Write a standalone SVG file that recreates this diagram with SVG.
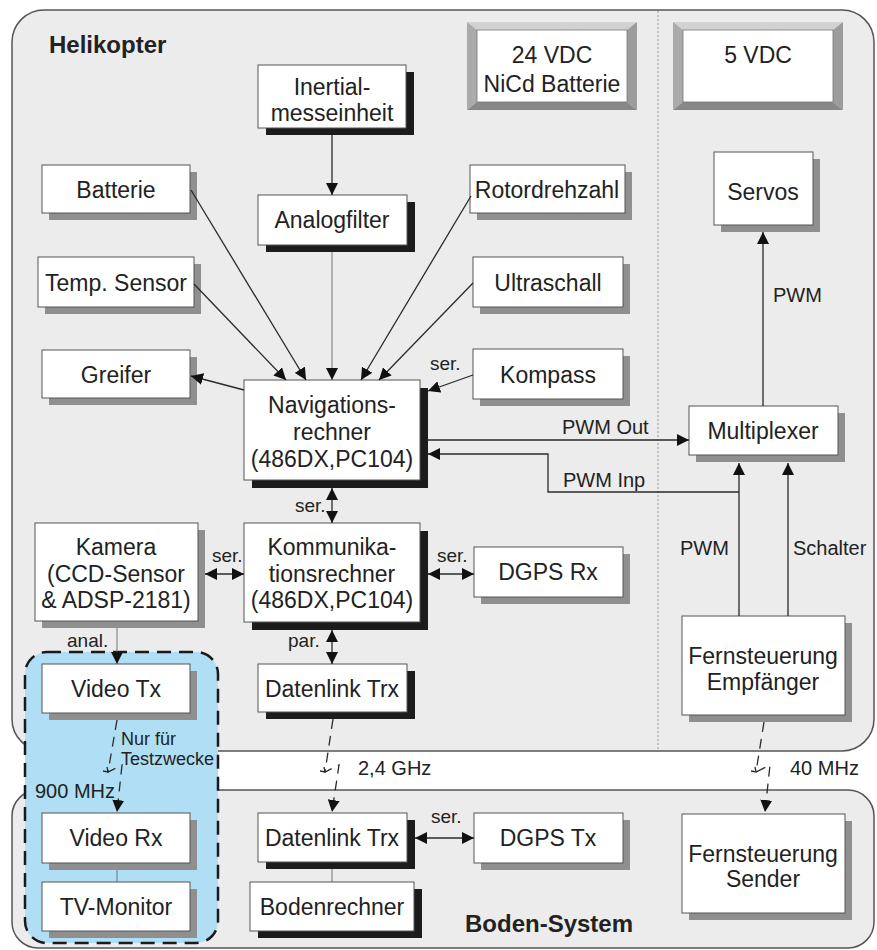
<svg xmlns="http://www.w3.org/2000/svg" width="877" height="950" viewBox="0 0 877 950">
<defs>
<marker id="ah" markerUnits="userSpaceOnUse" markerWidth="13" markerHeight="12" refX="12" refY="6" orient="auto-start-reverse" viewBox="0 0 13 12">
<path d="M0,0 L12,6 L0,12 z" fill="#111"/>
</marker>
<style>
.box{fill:#fff;stroke:#555;stroke-width:1}
.sg{fill:#8f8f8f}
.sb{fill:#1c1c1c}
.t{font-family:"Liberation Sans",Arial,sans-serif;font-size:23px;fill:#222;text-anchor:middle}
.l{font-family:"Liberation Sans",Arial,sans-serif;font-size:19px;fill:#222}
.lp{font-family:"Liberation Sans",Arial,sans-serif;font-size:20px;fill:#222}
.h{font-family:"Liberation Sans",Arial,sans-serif;font-size:24px;font-weight:bold;fill:#222}
.c{fill:none;stroke:#2a2a2a;stroke-width:1.3}
.cg{fill:none;stroke:#6a6a6a;stroke-width:0.9}
.cd{fill:none;stroke:#2a2a2a;stroke-width:1.3;stroke-dasharray:10,7}
.a{marker-end:url(#ah)}
.aa{marker-start:url(#ah);marker-end:url(#ah)}
</style>
</defs>
<rect width="877" height="950" fill="#fff"/>
<g id="containers">
<rect id="helikopter" x="12" y="10" width="862" height="741" rx="32" fill="#ececec" stroke="#555" stroke-width="1.5"/>
<rect id="boden-system" x="12" y="790" width="862" height="158" rx="26" fill="#ececec" stroke="#555" stroke-width="1.5"/>
<line x1="658" y1="11" x2="658" y2="750" stroke="#9a9a9a" stroke-width="1" stroke-dasharray="2,2"/>
<rect id="testbereich" x="25" y="652" width="193" height="291" rx="22" fill="#b0def4" stroke="#1a1a1a" stroke-width="2.5" stroke-dasharray="14,8"/>
<text class="h" x="49" y="53">Helikopter</text>
<text class="h" x="465" y="932">Boden-System</text>
</g>
<g id="vdc24">
<polygon points="467,22 637,22 627,30 477,30" fill="#d2d2d2"/>
<polygon points="467,22 477,30 477,102 467,110" fill="#ababab"/>
<polygon points="637,22 637,110 627,102 627,30" fill="#9c9c9c"/>
<polygon points="467,110 477,102 627,102 637,110" fill="#888"/>
<rect x="477" y="30" width="150" height="72" fill="#fff" stroke="#777" stroke-width="0.8"/>
<text class="t" x="552" y="63">24 VDC</text>
<text class="t" x="552" y="92">NiCd Batterie</text>
</g>
<g id="vdc5">
<polygon points="673,22 843,22 833,30 683,30" fill="#d2d2d2"/>
<polygon points="673,22 683,30 683,102 673,110" fill="#ababab"/>
<polygon points="843,22 843,110 833,102 833,30" fill="#9c9c9c"/>
<polygon points="673,110 683,102 833,102 843,110" fill="#888"/>
<rect x="683" y="30" width="150" height="72" fill="#fff" stroke="#777" stroke-width="0.8"/>
<text class="t" x="758" y="63">5 VDC</text>
</g>
<g id="inertial">
<rect class="sb" x="266" y="72" width="148" height="63"/>
<rect class="box" x="258" y="65" width="148" height="63"/>
<text class="t" x="332" y="95">Inertial-</text>
<text class="t" x="332" y="121">messeinheit</text>
</g>
<g id="analogfilter">
<rect class="sb" x="266" y="202" width="149" height="50"/>
<rect class="box" x="258" y="195" width="149" height="50"/>
<text class="t" x="332" y="228">Analogfilter</text>
</g>
<g id="batterie">
<rect class="sg" x="49" y="172" width="148" height="48"/>
<rect class="box" x="42" y="165" width="148" height="48"/>
<text class="t" x="116" y="198">Batterie</text>
</g>
<g id="temp">
<rect class="sg" x="45" y="264" width="156" height="50"/>
<rect class="box" x="38" y="257" width="156" height="50"/>
<text class="t" x="116" y="291">Temp. Sensor</text>
</g>
<g id="greifer">
<rect class="sg" x="49" y="357" width="148" height="48"/>
<rect class="box" x="42" y="350" width="148" height="48"/>
<text class="t" x="116" y="383">Greifer</text>
</g>
<g id="navigationsrechner">
<rect class="sb" x="252" y="388" width="176" height="100"/>
<rect class="box" x="244" y="380" width="176" height="100"/>
<text class="t" x="332" y="413">Navigations-</text>
<text class="t" x="332" y="440">rechner</text>
<text class="t" x="332" y="467">(486DX,PC104)</text>
</g>
<g id="rotordrehzahl">
<rect class="sg" x="477" y="172" width="155" height="48"/>
<rect class="box" x="470" y="165" width="155" height="48"/>
<text class="t" x="547" y="198">Rotordrehzahl</text>
</g>
<g id="ultraschall">
<rect class="sg" x="480" y="264" width="150" height="50"/>
<rect class="box" x="473" y="257" width="150" height="50"/>
<text class="t" x="548" y="291">Ultraschall</text>
</g>
<g id="kompass">
<rect class="sg" x="480" y="356" width="150" height="50"/>
<rect class="box" x="473" y="349" width="150" height="50"/>
<text class="t" x="548" y="383">Kompass</text>
</g>
<g id="servos">
<rect class="sg" x="721" y="159" width="99" height="73"/>
<rect class="box" x="714" y="152" width="99" height="73"/>
<text class="t" x="763" y="200">Servos</text>
</g>
<g id="multiplexer">
<rect class="sg" x="696" y="413" width="149" height="49"/>
<rect class="box" x="689" y="406" width="149" height="49"/>
<text class="t" x="763" y="439">Multiplexer</text>
</g>
<g id="kamera">
<rect class="sg" x="42" y="530" width="163" height="98"/>
<rect class="box" x="35" y="523" width="163" height="98"/>
<text class="t" x="116" y="555">Kamera</text>
<text class="t" x="116" y="582">(CCD-Sensor</text>
<text class="t" x="116" y="608">&amp; ADSP-2181)</text>
</g>
<g id="kommunikationsrechner">
<rect class="sb" x="252" y="531" width="176" height="99"/>
<rect class="box" x="244" y="523" width="176" height="99"/>
<text class="t" x="332" y="555">Kommunika-</text>
<text class="t" x="332" y="582">tionsrechner</text>
<text class="t" x="332" y="608">(486DX,PC104)</text>
</g>
<g id="dgpsrx">
<rect class="sg" x="481" y="554" width="149" height="50"/>
<rect class="box" x="474" y="547" width="149" height="50"/>
<text class="t" x="548" y="580">DGPS Rx</text>
</g>
<g id="empfaenger">
<rect class="sg" x="689" y="623" width="163" height="99"/>
<rect class="box" x="682" y="616" width="163" height="99"/>
<text class="t" x="763" y="664">Fernsteuerung</text>
<text class="t" x="763" y="690">Empfänger</text>
</g>
<g id="videotx">
<rect class="sg" x="49" y="671" width="148" height="49"/>
<rect class="box" x="42" y="664" width="148" height="49"/>
<text class="t" x="116" y="697">Video Tx</text>
</g>
<g id="datenlink-heli">
<rect class="sb" x="266" y="671" width="149" height="48"/>
<rect class="box" x="258" y="664" width="149" height="48"/>
<text class="t" x="332" y="697">Datenlink Trx</text>
</g>
<g id="videorx">
<rect class="sg" x="49" y="820" width="148" height="50"/>
<rect class="box" x="42" y="813" width="148" height="50"/>
<text class="t" x="116" y="846">Video Rx</text>
</g>
<g id="tvmonitor">
<rect class="sg" x="49" y="889" width="148" height="49"/>
<rect class="box" x="42" y="882" width="148" height="49"/>
<text class="t" x="116" y="915">TV-Monitor</text>
</g>
<g id="datenlink-boden">
<rect class="sb" x="266" y="820" width="149" height="49"/>
<rect class="box" x="258" y="813" width="149" height="49"/>
<text class="t" x="332" y="846">Datenlink Trx</text>
</g>
<g id="bodenrechner">
<rect class="sb" x="258" y="889" width="164" height="49"/>
<rect class="box" x="250" y="882" width="164" height="49"/>
<text class="t" x="332" y="915">Bodenrechner</text>
</g>
<g id="dgpstx">
<rect class="sg" x="481" y="820" width="149" height="50"/>
<rect class="box" x="474" y="813" width="149" height="50"/>
<text class="t" x="548" y="846">DGPS Tx</text>
</g>
<g id="sender">
<rect class="sg" x="689" y="821" width="163" height="99"/>
<rect class="box" x="682" y="814" width="163" height="99"/>
<text class="t" x="763" y="862">Fernsteuerung</text>
<text class="t" x="763" y="887">Sender</text>
</g>
<g id="connectors">
<line class="c a" x1="332" y1="135" x2="332" y2="195"/>
<line class="cg a" x1="332" y1="252" x2="332" y2="380"/>
<line class="c a" x1="191" y1="190" x2="306" y2="380"/>
<line class="c a" x1="194" y1="284" x2="286" y2="380"/>
<line class="c a" x1="471" y1="196" x2="361" y2="380"/>
<line class="c a" x1="473" y1="283" x2="379" y2="380"/>
<line class="c a" x1="473" y1="375" x2="428" y2="391"/>
<line class="c a" x1="244" y1="390" x2="191" y2="376"/>
<line class="c a" x1="428" y1="440" x2="689" y2="440"/>
<polyline class="c a" points="739,492 548,492 548,454 428,454"/>
<line class="c a" x1="739" y1="616" x2="739" y2="463"/>
<line class="c a" x1="788" y1="616" x2="788" y2="463"/>
<line class="c a" x1="763" y1="406" x2="763" y2="232"/>
<line class="c aa" x1="332" y1="488" x2="332" y2="523"/>
<line class="c aa" x1="205" y1="574" x2="244" y2="574"/>
<line class="c aa" x1="428" y1="574" x2="474" y2="574"/>
<line class="c aa" x1="332" y1="630" x2="332" y2="664"/>
<line class="cg a" x1="117" y1="628" x2="117" y2="664"/>
<line class="cg" x1="117" y1="870" x2="117" y2="882"/>
<line class="cg" x1="332" y1="869" x2="332" y2="882"/>
<line class="c aa" x1="415" y1="838" x2="474" y2="838"/>
<path class="cd a" d="M117,720 L108,772 L122,765 L117,812"/>
<path class="c" d="M103,771 L108,772 L107,767"/>
<path class="cd a" d="M333,719 L325,772 L339,765 L332,812"/>
<path class="c" d="M320,771 L325,772 L324,767"/>
<path class="cd a" d="M764,722 L756,772 L770,765 L765,812"/>
<path class="c" d="M751,771 L756,772 L755,767"/>
<text class="l" x="430" y="370">ser.</text>
<text class="lp" x="562" y="434">PWM Out</text>
<text class="lp" x="563" y="487">PWM Inp</text>
<text class="lp" x="773" y="302">PWM</text>
<text class="lp" x="680" y="555">PWM</text>
<text class="lp" x="793" y="555">Schalter</text>
<text class="l" x="295" y="512">ser.</text>
<text class="l" x="212" y="562">ser.</text>
<text class="l" x="437" y="562">ser.</text>
<text class="l" x="288" y="647">par.</text>
<text class="l" x="67" y="647">anal.</text>
<text class="l" x="121" y="745" style="font-size:18px">Nur für</text>
<text class="l" x="121" y="765" style="font-size:18px">Testzwecke</text>
<text class="lp" x="35" y="798">900 MHz</text>
<text class="lp" x="358" y="775">2,4 GHz</text>
<text class="lp" x="790" y="775">40 MHz</text>
<text class="l" x="431" y="823">ser.</text>
</g>
</svg>
